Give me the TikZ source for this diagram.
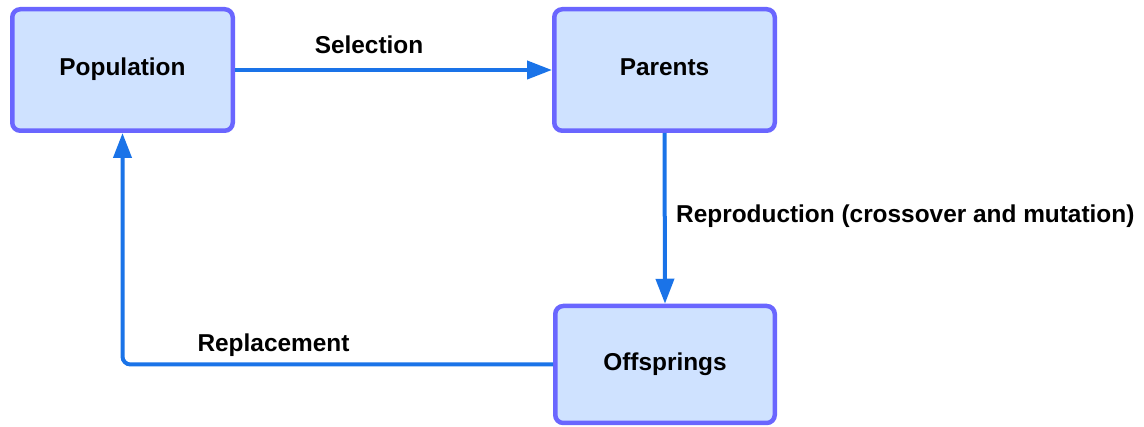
\documentclass[tikz,border=0pt]{standalone}
\usepackage{fontspec}
\setmainfont{Liberation Sans}
\usetikzlibrary{arrows.meta}
\definecolor{boxedge}{HTML}{6A66FF}
\definecolor{boxfill}{HTML}{CFE2FF}
\definecolor{flow}{HTML}{1A73E8}
\begin{document}
\begin{tikzpicture}[x=1pt,y=-1pt,
  font=\fontsize{24.4}{28}\selectfont\bfseries,
  stage/.style={draw=boxedge,fill=boxfill,line width=4.5pt,rounded corners=8pt,
    minimum width=220.5pt,minimum height=121.5pt,inner sep=0pt,
    text height=16pt,text depth=5.4pt},
  link/.style={draw=flow,line width=4pt,
    -{Triangle[length=25pt,width=18pt]}},
  tag/.style={inner sep=0pt,anchor=base}]
\useasboundingbox (0,0) rectangle (1144,427);

\node[stage] (pop) at (122.5,70) {Population};
\node[stage] (par) at (664.5,70) {Parents};
\node[stage,minimum width=219.5pt,minimum height=117pt,text depth=3pt] (off) at (665,364.5) {Offsprings};

\draw[link] (pop.east) -- (par.west);
\draw[link] (par.south) -- (off.north);
\draw[link,rounded corners=8pt] (off.west) -| (pop.south);

\node[tag] (sel) at (369,54) {Selection};
\node[tag,anchor=base west] (rep) at (676,223) {Reproduction (crossover and mutation)};
\node[tag] (repl) at (273.5,352) {Replacement};
\end{tikzpicture}
\end{document}
